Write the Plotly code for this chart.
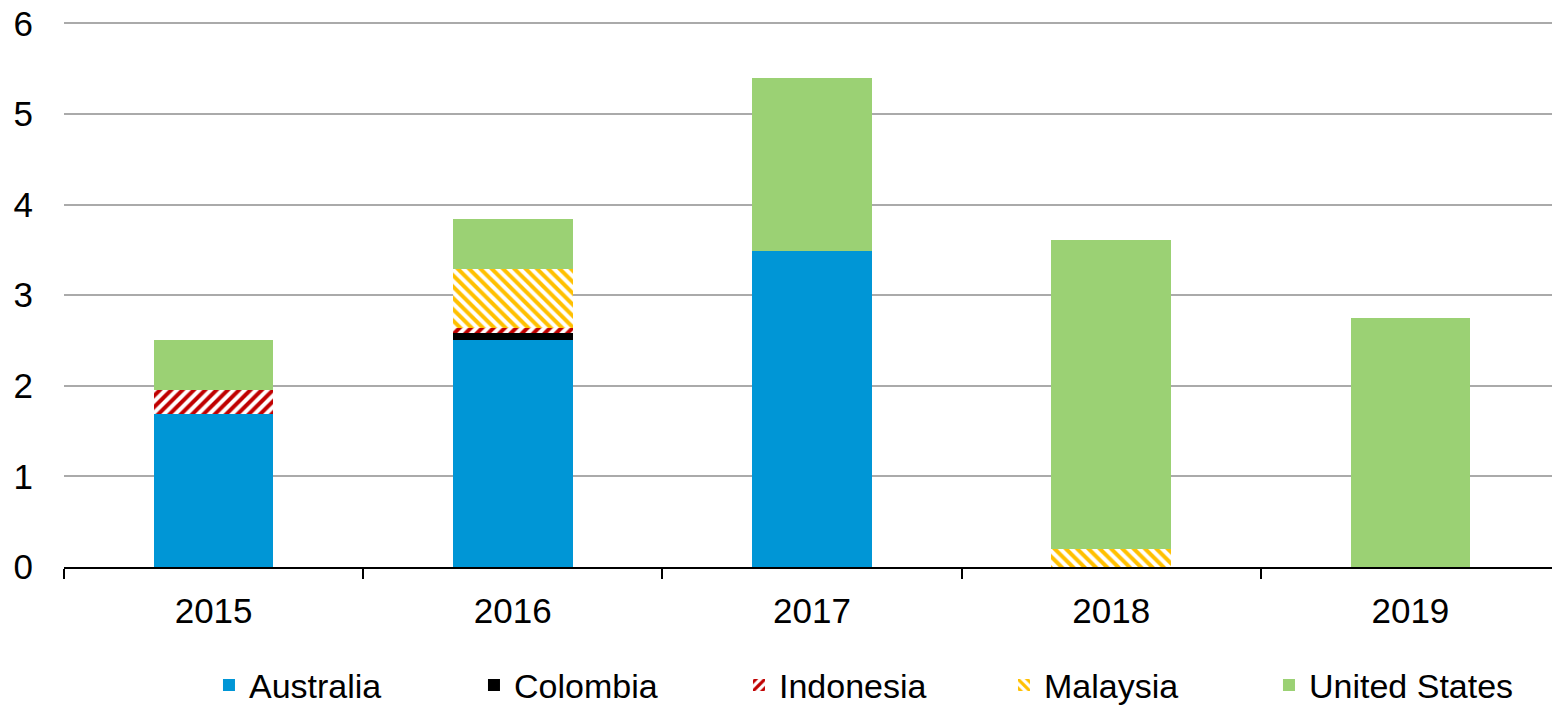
import plotly.graph_objects as go

years = ["2015", "2016", "2017", "2018", "2019"]
australia = [1.69, 2.50, 3.49, 0.0, 0.0]
colombia = [0.0, 0.08, 0.0, 0.0, 0.0]
indonesia = [0.26, 0.06, 0.0, 0.0, 0.0]
malaysia = [0.0, 0.65, 0.0, 0.20, 0.0]
united_states = [0.55, 0.55, 1.91, 3.41, 2.75]

fig = go.Figure()
fig.add_trace(go.Bar(name="Australia", x=years, y=australia, marker=dict(color="#0096D6", line=dict(width=0))))
fig.add_trace(go.Bar(name="Colombia", x=years, y=colombia, marker=dict(color="#000000", line=dict(width=0))))
fig.add_trace(go.Bar(name="Indonesia", x=years, y=indonesia,
                     marker=dict(color="#FFFFFF", line=dict(width=0),
                                 pattern=dict(shape="/", fgcolor="#C00000", bgcolor="#FFFFFF", size=8,
                                              solidity=0.5, fillmode="replace", fgopacity=1))))
fig.add_trace(go.Bar(name="Malaysia", x=years, y=malaysia,
                     marker=dict(color="#FFFFFF", line=dict(width=0),
                                 pattern=dict(shape="\\", fgcolor="#FFC000", bgcolor="#FFFFFF", size=8,
                                              solidity=0.5, fillmode="replace", fgopacity=1))))
fig.add_trace(go.Bar(name="United States", x=years, y=united_states, marker=dict(color="#9BD174", line=dict(width=0))))

fig.update_layout(
    barmode="stack",
    bargap=0.6,
    width=1552, height=697,
    margin=dict(l=56, r=0, t=14, b=138, autoexpand=False),
    plot_bgcolor="white", paper_bgcolor="white",
    font=dict(family="Liberation Sans, Arial, sans-serif", size=35, color="black"),
    showlegend=True,
    legend=dict(orientation="h", xref="container", yref="container",
                x=0.1295, xanchor="left", y=0.028, yanchor="middle",
                font=dict(size=34), itemwidth=30, traceorder="normal",
                entrywidth=220, entrywidthmode="pixels"),
    xaxis=dict(showline=True, linecolor="black", linewidth=2, ticks="outside", tickson="boundaries",
               ticklen=10, tickcolor="black", tickwidth=1.5, showgrid=False, automargin=False,
               tickfont=dict(size=35), ticklabelstandoff=12),
    yaxis=dict(range=[0, 6.015], tickvals=[0, 1, 2, 3, 4, 5, 6], showgrid=True, gridcolor="#AAAAAA",
               gridwidth=1.5, showline=False, zeroline=False, ticks="", ticklabelstandoff=30,
               automargin=False, ticklabeloverflow="allow", tickfont=dict(size=35)),
)

fig.write_html("out.html")
